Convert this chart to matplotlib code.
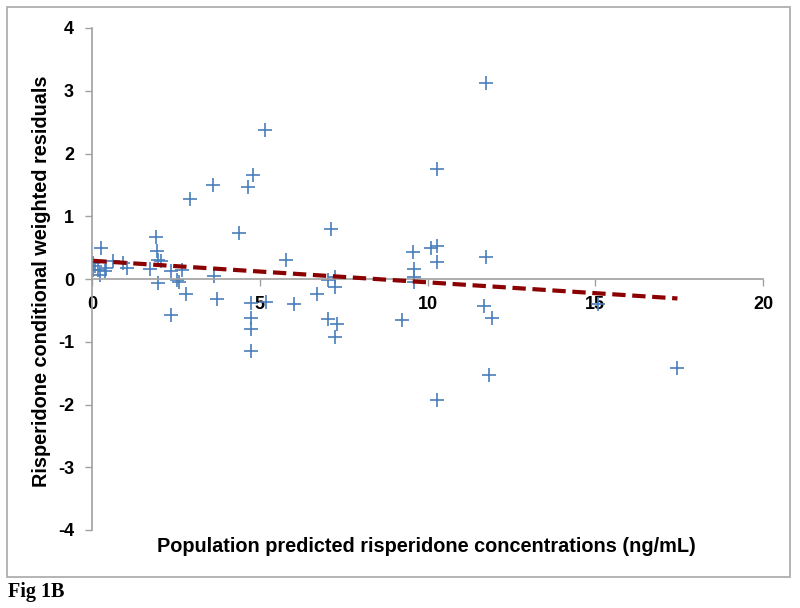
import matplotlib
matplotlib.use("Agg")
import matplotlib.pyplot as plt
from matplotlib.patches import Rectangle

conc = [11.74, 5.16, 10.29, 4.81, 3.62, 4.64, 2.92, 4.39, 7.11, 1.91,
        1.94, 0.26, 5.78, 11.74, 9.58, 10.09, 10.29, 10.29, 9.60, 9.60,
        9.60, 0.04, 0.09, 0.04, 0.19, 0.24, 0.38, 0.43, 0.63, 0.93,
        1.03, 1.73, 1.98, 2.07, 1.96, 2.35, 2.52, 2.58, 2.67, 2.80,
        2.35, 3.63, 3.74, 4.73, 5.18, 4.73, 4.73, 4.73, 6.01, 6.72,
        7.02, 7.24, 7.25, 7.02, 7.29, 7.25, 9.23, 11.68, 11.92, 11.82,
        10.29, 17.45, 15.09]
resid = [3.12, 2.37, 1.75, 1.66, 1.50, 1.47, 1.27, 0.74, 0.80, 0.67,
         0.45, 0.49, 0.30, 0.35, 0.43, 0.49, 0.53, 0.27, 0.16, 0.03,
         -0.05, 0.25, 0.20, 0.14, 0.15, 0.06, 0.12, 0.17, 0.28, 0.25,
         0.17, 0.16, 0.30, 0.28, -0.07, 0.13, -0.02, -0.04, 0.14, -0.24,
         -0.57, 0.05, -0.32, -0.39, -0.36, -0.62, -0.80, -1.15, -0.40, -0.24,
         -0.02, 0.03, -0.13, -0.63, -0.72, -0.92, -0.65, -0.43, -0.62, -1.53,
         -1.93, -1.42, -0.40]
trend_x = [0.04, 17.45]
trend_y = [0.29, -0.31]
x_ticks = [0, 5, 10, 15, 20]
y_ticks = [-4, -3, -2, -1, 0, 1, 2, 3, 4]

plt.rcParams['font.family'] = ['Liberation Sans', 'DejaVu Sans']

fig = plt.figure(figsize=(8, 6.08), dpi=100)
ax = fig.add_axes([92/800, 1-530/608, (763-92)/800, (530-28)/608])

ax.plot(conc, resid, linestyle='none', marker='+', markersize=10,
        markeredgewidth=1.2, color='#4a7ebb', zorder=2)
ax.plot(trend_x, trend_y, linestyle=(0, (3.2, 1.6)), color='#8b0000',
        linewidth=3, zorder=3)

ax.spines['top'].set_visible(False)
ax.spines['right'].set_visible(False)
ax.spines['bottom'].set_position(('data', 0))
for s in ('left', 'bottom'):
    ax.spines[s].set_color('#a0a0a0')
    ax.spines[s].set_linewidth(1.2)

ax.set_xlim(0, 20)
ax.set_ylim(-4, 4)
ax.set_xticks(x_ticks)
ax.set_yticks(y_ticks)
ax.set_xticklabels([str(v) for v in x_ticks], fontsize=13, fontweight='bold', zorder=5)
ax.set_yticklabels([str(v) for v in y_ticks], fontsize=13, fontweight='bold')
ax.tick_params(axis='both', color='#a0a0a0', length=5, width=1, direction='out')
ax.tick_params(axis='x', pad=7)
ax.tick_params(axis='y', pad=8)

fig.text(426/800, 1-546/608, 'Population predicted risperidone concentrations (ng/mL)',
         ha='center', va='center', fontsize=14.3, fontweight='bold')
fig.text(42/800, 1-281/608, 'Risperidone conditional weighted residuals',
         ha='center', va='center', rotation=90, fontsize=14.3, fontweight='bold')

fig.patches.append(Rectangle((7/800, 1-577/608), (790-7)/800, (577-7)/608,
                             transform=fig.transFigure, fill=False,
                             edgecolor='#a8a8a8', linewidth=1.2))
fig.text(8/800, 1-592/608, 'Fig 1B', ha='left', va='center', fontsize=14.5,
         fontweight='bold', family=['Liberation Serif', 'DejaVu Serif'])

fig.savefig('out.png', dpi=100)
